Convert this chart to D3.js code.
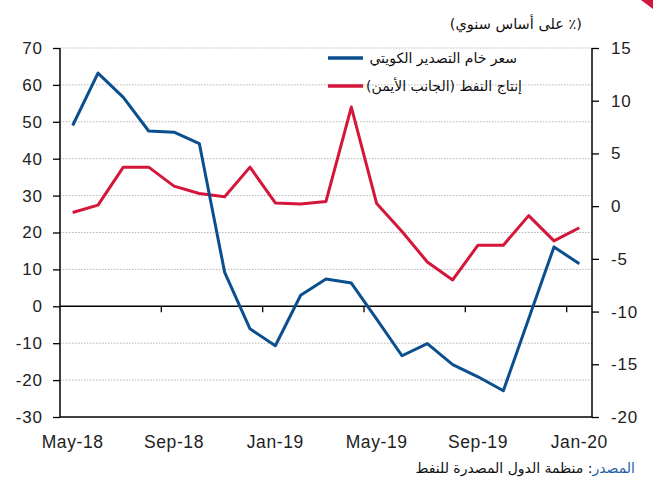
<!DOCTYPE html>
<html>
<head>
<meta charset="utf-8">
<script src="https://cdn.jsdelivr.net/npm/d3@7"></script>
<style>
	body { margin: 0; background: #fff; }
	svg { display: block; font-family: "Liberation Sans", Arial, sans-serif; }
</style>
</head>
<body>
<div id="chart"></div>
<script>
// months on the x axis
var months = ["May-18", "Jun-18", "Jul-18", "Aug-18", "Sep-18", "Oct-18", "Nov-18", "Dec-18",
	"Jan-19", "Feb-19", "Mar-19", "Apr-19", "May-19", "Jun-19", "Jul-19", "Aug-19",
	"Sep-19", "Oct-19", "Nov-19", "Dec-19", "Jan-20"];
// kuwait export crude price, left axis
var crudePrice = [49.0, 63.2, 56.6, 47.5, 47.2, 44.1, 9.2, -6.1, -10.7, 3.0, 7.4, 6.3,
	-3.5, -13.4, -10.1, -15.8, -19.1, -22.9, -3.4, 16.1, 11.5];
// oil production, right axis
var oilProd = [-0.6, 0.1, 3.7, 3.7, 1.9, 1.2, 0.9, 3.7, 0.3, 0.2, 0.45, 9.4,
	0.25, -2.4, -5.3, -7.0, -3.7, -3.7, -0.9, -3.3, -2.05];
var leftTicks = [70, 60, 50, 40, 30, 20, 10, 0, -10, -20, -30];
var rightTicks = [15, 10, 5, 0, -5, -10, -15, -20];
var legendNames = ["سعر خام التصدير الكويتي", "إنتاج النفط (الجانب الأيمن)"];
var titleText = "(٪ على أساس سنوي)";
var sourceLabel = "المصدر";
var sourceText = ": منظمة الدول المصدرة للنفط";

var blue = "#0b4f8f", red = "#d3163a";

var svg = d3.select("#chart").append("svg")
	.attr("width", 653)
	.attr("height", 479);

var plotL = 60, plotR = 592, plotT = 48, plotB = 417;

var x = d3.scaleBand().domain(months).range([plotL, plotR]);
var yL = d3.scaleLinear().domain([-30, 70]).range([plotB, plotT]);
var yR = d3.scaleLinear().domain([-20, 15]).range([plotB, plotT]);

// red corner mark
svg.append("path")
	.attr("d", "M641,0 L653,0 L653,9 Z")
	.attr("fill", "#d3163a");

// dotted grid
svg.append("g").selectAll("line")
	.data(leftTicks.filter(function (d) { return d != -30 && d != 0; }))
	.enter().append("line")
	.attr("x1", plotL).attr("x2", plotR)
	.attr("y1", function (d) { return yL(d); })
	.attr("y2", function (d) { return yL(d); })
	.attr("stroke", "#b5b5b5")
	.attr("stroke-width", 1)
	.attr("stroke-dasharray", "1.5,1.5");

// plain hyphen for negatives, like the original
var fmt = function (d) { return String(d); };

// left axis
var leftAxis = d3.axisLeft(yL).tickValues(leftTicks).tickFormat(fmt).tickSize(7).tickPadding(11);
var gl = svg.append("g").attr("transform", "translate(" + plotL + ",0)").call(leftAxis);
// right axis
var rightAxis = d3.axisRight(yR).tickValues(rightTicks).tickFormat(fmt).tickSize(7).tickPadding(12);
var gr = svg.append("g").attr("transform", "translate(" + plotR + ",0)").call(rightAxis);

[gl, gr].forEach(function (g) {
	g.select(".domain").remove();
	g.selectAll("line").attr("stroke", "#000").attr("stroke-width", 1.3);
	g.selectAll("text").attr("font-size", 17).attr("fill", "#222")
		.attr("letter-spacing", 0.8)
		.attr("font-family", "Liberation Sans, Arial, sans-serif");
});
gl.selectAll("text").attr("dx", 0.8);

// frame lines
svg.append("line").attr("x1", plotL).attr("x2", plotL).attr("y1", plotT).attr("y2", plotB)
	.attr("stroke", "#000").attr("stroke-width", 1.5);
svg.append("line").attr("x1", plotR).attr("x2", plotR).attr("y1", plotT).attr("y2", plotB)
	.attr("stroke", "#000").attr("stroke-width", 1.5);
svg.append("line").attr("x1", plotL).attr("x2", plotR).attr("y1", plotB).attr("y2", plotB)
	.attr("stroke", "#000").attr("stroke-width", 1.5);

// zero line with category ticks
svg.append("line").attr("x1", plotL).attr("x2", plotR).attr("y1", yL(0)).attr("y2", yL(0))
	.attr("stroke", "#000").attr("stroke-width", 1.5);
svg.append("g").selectAll("line")
	.data(months.filter(function (d, i) { return i % 4 == 0 && i > 0; }))
	.enter().append("line")
	.attr("x1", function (d) { return x(d); })
	.attr("x2", function (d) { return x(d); })
	.attr("y1", yL(0)).attr("y2", yL(0) + 6)
	.attr("stroke", "#000").attr("stroke-width", 1.3);

// month labels
svg.append("g").selectAll("text")
	.data(months.filter(function (d, i) { return i % 4 == 0; }))
	.enter().append("text")
	.attr("x", function (d) { return x(d) + x.bandwidth() / 2; })
	.attr("y", 448)
	.attr("text-anchor", "middle")
	.attr("font-size", 17.5)
	.attr("letter-spacing", 0.6)
	.attr("fill", "#222")
	.text(function (d) { return d; });

// lines
var lineL = d3.line()
	.x(function (d, i) { return x(months[i]) + x.bandwidth() / 2; })
	.y(function (d) { return yL(d); });
var lineR = d3.line()
	.x(function (d, i) { return x(months[i]) + x.bandwidth() / 2; })
	.y(function (d) { return yR(d); });

svg.append("path").datum(oilProd)
	.attr("d", lineR)
	.attr("fill", "none")
	.attr("stroke", red)
	.attr("stroke-width", 3)
	.attr("stroke-linejoin", "round");
svg.append("path").datum(crudePrice)
	.attr("d", lineL)
	.attr("fill", "none")
	.attr("stroke", blue)
	.attr("stroke-width", 3)
	.attr("stroke-linejoin", "round");

// legend
var legend = svg.append("g");
[blue, red].forEach(function (c, i) {
	var ly = 58 + i * 28;
	legend.append("line")
		.attr("x1", 328).attr("x2", 363).attr("y1", ly).attr("y2", ly)
		.attr("stroke", c).attr("stroke-width", 3.5);
	legend.append("text")
		.attr("x", i == 0 ? 517 : 522)
		.attr("y", ly + 5)
		.attr("direction", "rtl")
		.attr("text-anchor", "start")
		.attr("font-size", 14)
		.attr("font-family", "DejaVu Sans, sans-serif")
		.attr("fill", "#111")
		.text(legendNames[i]);
});

// title
svg.append("text")
	.attr("x", 582)
	.attr("y", 29)
	.attr("direction", "rtl")
	.attr("text-anchor", "start")
	.attr("font-size", 14.5)
	.attr("font-family", "DejaVu Sans, sans-serif")
	.attr("fill", "#111")
	.text(titleText);

// source
var src = svg.append("text")
	.attr("x", 635)
	.attr("y", 473)
	.attr("direction", "rtl")
	.attr("text-anchor", "start")
	.attr("font-size", 14)
	.attr("font-family", "DejaVu Sans, sans-serif");
src.append("tspan").attr("fill", "#1f5fa8").text(sourceLabel);
src.append("tspan").attr("fill", "#111").text(sourceText);
</script>
</body>
</html>
